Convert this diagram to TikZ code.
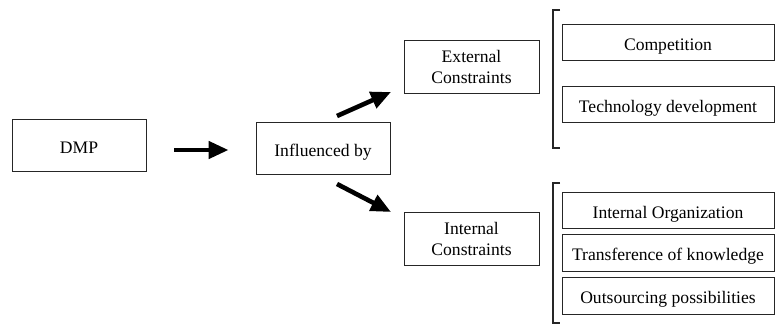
\documentclass[tikz,border=0pt]{standalone}
\usepackage{fontspec}
\setmainfont{Liberation Serif}
\usetikzlibrary{arrows.meta}
\begin{document}
\begin{tikzpicture}[x=1pt,y=-1pt,
  box/.style={draw=black!85, line width=0.9pt, inner sep=0pt, align=center,
    font=\fontsize{17.6pt}{21pt}\selectfont},
  one/.style={box, text height=16pt, text depth=0pt},
  fat/.style={line width=4.6pt, -{Triangle[length=20pt,width=17pt]}},
  brk/.style={draw=black!85, line width=1.1pt}]
\useasboundingbox (0,0) rectangle (775,329);
% main flow
\node[one, minimum width=134pt, minimum height=52pt] (dmp) at (79,145) {DMP};
\node[one, minimum width=134pt, minimum height=52pt] (infl) at (323,148) {Influenced by};
\node[box, minimum width=135pt, minimum height=53pt] (ext) at (471.5,66.5) {External\\Constraints};
\node[box, minimum width=135pt, minimum height=53pt] (int) at (471.5,238.5) {Internal\\Constraints};
% external factors
\node[one, minimum width=212pt, minimum height=36pt] (comp) at (668,42) {Competition};
\node[one, minimum width=212pt, minimum height=36pt] (tech) at (668,104) {Technology development};
% internal factors
\node[one, minimum width=212pt, minimum height=36pt] (org) at (668,210) {Internal Organization};
\node[one, minimum width=212pt, minimum height=37pt] (know) at (668,252.5) {Transference of knowledge};
\node[one, minimum width=212pt, minimum height=37pt] (out) at (668,295.5) {Outsourcing possibilities};
% arrows
\draw[fat, shorten <=28pt, shorten >=27pt] (dmp.east |- 0,150) -- (infl.west |- 0,150);
\coordinate (upA) at (337,116);
\coordinate (upB) at (391,92);
\coordinate (dnA) at (337,184);
\coordinate (dnB) at (391,212);
\draw[fat] (upA) -- (upB);
\draw[fat] (dnA) -- (dnB);
% brackets
\coordinate (b1t) at (553,10);
\coordinate (b1b) at (553,148);
\coordinate (b2t) at (553,183);
\coordinate (b2b) at (553,323);
\draw[brk] ([xshift=7pt]b1t) -- (b1t) -- (b1b) -- ([xshift=7pt]b1b);
\draw[brk] ([xshift=7pt]b2t) -- (b2t) -- (b2b) -- ([xshift=7pt]b2b);
\end{tikzpicture}
\end{document}
